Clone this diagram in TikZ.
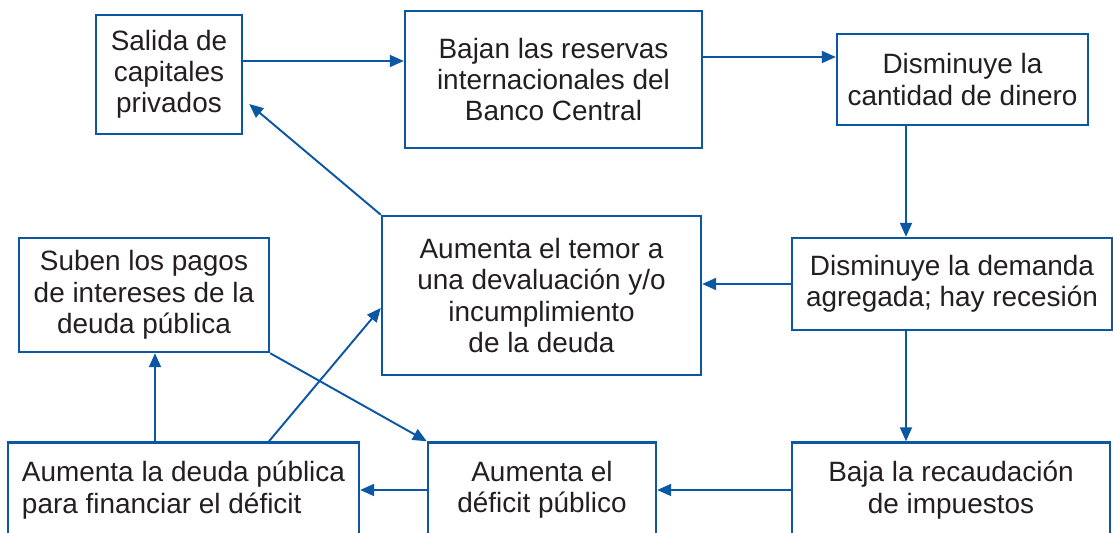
\documentclass[tikz,border=0pt]{standalone}
\usepackage{fontspec}
\setmainfont{Liberation Sans}
\usepackage{tikz}
\usetikzlibrary{arrows.meta}
\definecolor{LineBlue}{HTML}{0B57A4}
\definecolor{TextBlack}{HTML}{231F20}

\begin{document}
\begin{tikzpicture}[x=0.02cm, y=-0.02cm,
  every node/.style={font=\fontsize{15.9}{17.8}\selectfont, text=TextBlack, align=center},
  flowbox/.style={draw=LineBlue, line width=1.4pt, fill=white, inner sep=2pt},
  flowarrow/.style={draw=LineBlue, line width=1.1pt, -{Triangle[length=0.28cm,width=0.24cm]}}]
  % Frame of the page
  \clip (0,0) rectangle (1113,533);
  \fill[white] (0,0) rectangle (1113,533);

  % Top row
  \node[flowbox, minimum width=2.92cm, minimum height=2.38cm] (salida) at (169,74.5)
  {Salida de\\capitales\\privados};
  \node[flowbox, minimum width=5.94cm, minimum height=2.74cm] (bajan) at (553.5,79.5)
  {Bajan las reservas\\internacionales del\\Banco Central};
  \node[flowbox, minimum width=5.02cm, minimum height=1.82cm] (cantidad) at (962.5,79.5)
  {Disminuye la\\cantidad de dinero};

  % Middle row
  \node[flowbox, minimum width=5.0cm, minimum height=2.28cm] (pagos) at (144,295)
  {Suben los pagos\\de intereses de la\\deuda pública};
  \node[flowbox, minimum width=6.38cm, minimum height=3.18cm] (temor) at (541.5,295.5)
  {Aumenta el temor a\\una devaluación y/o\\incumplimiento\\de la deuda};
  \node[flowbox, minimum width=6.4cm, minimum height=1.84cm] (demanda) at (952,284)
  {Disminuye la demanda\\agregada; hay recesión};

  % Bottom row, cut by the page edge
  \node[flowbox, align=left, minimum width=7.02cm, minimum height=1.9cm] (deuda) at (183.5,490)
  {Aumenta la deuda pública\\para financiar el déficit};
  \node[flowbox, minimum width=4.56cm, minimum height=1.9cm] (deficit) at (542,490)
  {Aumenta el\\déficit público};
  \node[flowbox, minimum width=6.36cm, minimum height=1.9cm] (baja) at (951,490)
  {Baja la recaudación\\de impuestos};

  % Main loop
  \draw[flowarrow] (salida.east |- 0,61) -- (bajan.west |- 0,61);
  \draw[flowarrow] (bajan.east |- 0,57) -- (cantidad.west |- 0,57);
  \draw[flowarrow] (cantidad.south -| 906,0) -- (demanda.north -| 906,0);
  \draw[flowarrow] (demanda.west |- 0,284) -- (temor.east |- 0,284);
  \draw[flowarrow] (temor.north west) -- ([xshift=0.12cm]salida.east |- 0,104);

  % Fiscal loop
  \draw[flowarrow] (demanda.south -| 906,0) -- (baja.north -| 906,0);
  \draw[flowarrow] (baja.west |- 0,490) -- (deficit.east |- 0,490);
  \draw[flowarrow] (deficit.west |- 0,490) -- (deuda.east |- 0,490);
  \draw[flowarrow] (deuda.north -| 155,0) -- (pagos.south -| 155,0);
  \draw[flowarrow] (pagos.south east) -- (deficit.north west);
  \draw[flowarrow] (deuda.north -| 269,0) -- (temor.west |- 0,308);
\end{tikzpicture}
\end{document}
